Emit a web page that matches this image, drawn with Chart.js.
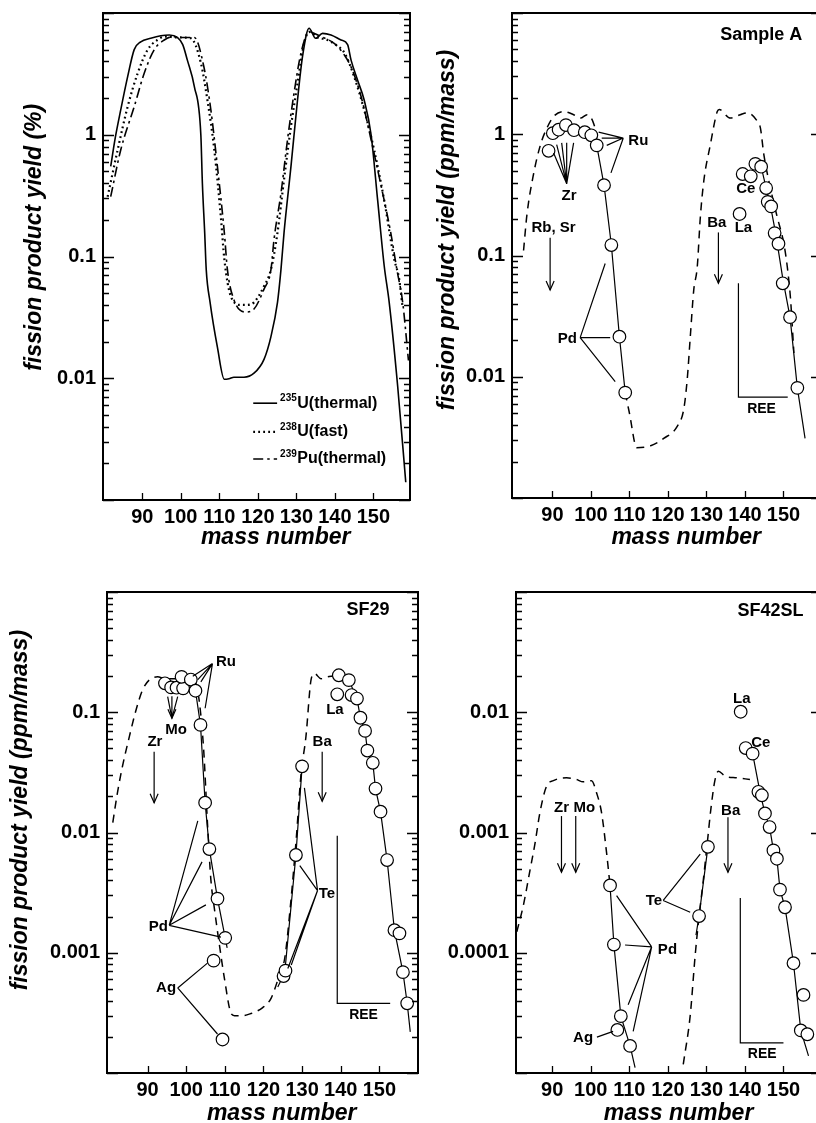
<!DOCTYPE html>
<html>
<head>
<meta charset="utf-8">
<title>Fission product yields</title>
<script src="https://cdn.jsdelivr.net/npm/chart.js@4.4.1/dist/chart.umd.min.js"></script>
<style>
  html, body { margin: 0; padding: 0; background: #fff; overflow: hidden; width: 816px; height: 1123px; }
  body { position: relative; }
  canvas { position: absolute; }
</style>
</head>
<body>
<canvas id="c1" width="420" height="560" style="left:0;top:0"></canvas>
<canvas id="c2" width="422" height="560" style="left:410px;top:0"></canvas>
<canvas id="c3" width="428" height="560" style="left:0;top:579px"></canvas>
<canvas id="c4" width="422" height="560" style="left:410px;top:579px"></canvas>
<script>
/* ── Axis ticks ─────────────────────────────── */
const xTicks = [90, 100, 110, 120, 130, 140, 150];
const xTickLabels = ['90', '100', '110', '120', '130', '140', '150'];

/* ── Panel 1: fission yield curves (%) ──────── */
const u235Mass = [81.8, 83, 84.4, 86.2, 87.9, 89.6, 92.2, 94.8, 97, 99.1, 100.5, 101.7, 103.5, 105.2, 105.6, 106.2, 106.6, 107.6, 109.5, 111.3, 112.5, 113.8, 116.4, 119, 121.6, 123.4, 125.1, 126, 126.8, 128.6, 130.3, 131.6, 133.3, 135, 136.8, 139, 141.6, 143.3, 144.2, 145.9, 147.6, 149.4, 151.1, 152.8, 154.1, 156.3, 158.4];
const u235Yield = [0.55, 0.95, 1.6, 3.0, 5.0, 5.8, 6.2, 6.5, 6.6, 6.3, 5.5, 4.1, 2.5, 1.0, 0.4, 0.157, 0.078, 0.042, 0.018, 0.0098, 0.0099, 0.0102, 0.0102, 0.011, 0.0143, 0.022, 0.042, 0.078, 0.157, 0.55, 1.93, 4.4, 7.5, 6.2, 6.8, 6.6, 6.0, 5.5, 4.1, 2.8, 1.93, 1.0, 0.29, 0.084, 0.042, 0.0086, 0.0014];
const u238Mass = [81, 83.6, 86.2, 88.8, 91.4, 93.9, 96, 99, 102.6, 105.2, 106.9, 108.7, 110.4, 111.3, 113, 115.6, 117, 119, 121.6, 123.4, 125.1, 126.8, 128.6, 130.3, 132, 133.3, 135.5, 138.1, 140.5, 142.5, 145, 147.6, 150.2, 152.8, 155.4, 156.7, 157.5];
const u238Yield = [0.31, 0.75, 1.7, 3.2, 5.0, 6.0, 6.4, 6.3, 6.2, 3.9, 1.93, 0.75, 0.21, 0.095, 0.047, 0.040, 0.040, 0.042, 0.057, 0.078, 0.157, 0.43, 1.17, 2.65, 5.6, 7.0, 6.3, 6.0, 5.4, 4.7, 3.0, 1.6, 0.75, 0.29, 0.095, 0.065, 0.04];
const pu239Mass = [81.8, 84.4, 87.9, 90.5, 93.1, 95.7, 98, 100, 103.5, 106, 107.8, 109.5, 111.3, 112.1, 113.8, 116.9, 119, 121.6, 123.4, 124.2, 126, 127.7, 129.4, 131.2, 133.3, 136.4, 139.9, 142.5, 144.2, 146.8, 149.4, 152, 154.5, 156.1, 157.6, 159.1];
const pu239Yield = [0.31, 0.75, 1.7, 3.2, 5.0, 6.0, 6.4, 6.3, 6.3, 3.6, 1.6, 0.55, 0.157, 0.078, 0.044, 0.035, 0.037, 0.054, 0.078, 0.138, 0.33, 0.91, 2.2, 4.7, 7.0, 6.4, 5.6, 4.5, 3.6, 2.06, 0.91, 0.38, 0.157, 0.078, 0.042, 0.014];
const keyIsotopes = ['235', '238', '239'];
const keyNames = ['U(thermal)', 'U(fast)', 'Pu(thermal)'];

/* ── Panel 2: Sample A (ppm/mass) ───────────── */
const aModelMass = [82.5, 83.4, 85.1, 86.9, 88.6, 90.3, 92.9, 95.5, 97.3, 99, 100.3, 101.0, 105, 108.9, 110, 111.9, 115.5, 118.9, 122.4, 124.1, 125, 125.8, 126.7, 127.6, 128.4, 129.3, 131, 132.8, 133.3, 136.2, 138.8, 140.6, 143.2, 144, 144.9, 146.6, 148.4, 150.1, 151, 151.8, 152.7];
const aModelYield = [0.11, 0.22, 0.47, 0.82, 1.13, 1.40, 1.54, 1.45, 1.36, 1.45, 1.32, 1.15, null, 0.0074, 0.005, 0.0026, 0.0027, 0.0031, 0.0039, 0.0054, 0.0095, 0.0214, 0.052, 0.080, 0.206, 0.41, 0.82, 1.54, 1.6, 1.36, 1.45, 1.50, 1.28, 1.13, 0.68, 0.36, 0.206, 0.125, 0.080, 0.045, 0.0157];
const aLeftMass = [89.0, 90.1, 91.6, 93.5, 95.6, 98.4, 100.1, 101.5, 103.4, 105.3, 107.4, 108.9];
const aLeftYield = [0.73, 1.02, 1.09, 1.19, 1.08, 1.04, 0.98, 0.81, 0.38, 0.122, 0.0214, 0.0074];
const aRightMass = [138.6, 139.4, 141.5, 142.7, 144.2, 145.5, 145.9, 146.8, 147.7, 148.7, 149.8, 151.7, 153.6];
const aRightYield = [0.22, 0.47, 0.45, 0.57, 0.54, 0.36, 0.277, 0.254, 0.153, 0.125, 0.059, 0.031, 0.0081];
const aLineLMass = [101.5, 103.4, 105.3, 107.4, 108.9];
const aLineLYield = [0.81, 0.38, 0.122, 0.0214, 0.0074];
const aLineRMass = [144.2, 145.5, 146.8, 148, 149.9, 151.7, 153.6, 155.6];
const aLineRYield = [0.54, 0.36, 0.24, 0.15, 0.062, 0.031, 0.0081, 0.0031];

/* ── Panel 3: SF29 (ppm/mass) ───────────────── */
const sfModelMass = [81, 82.2, 83.5, 85.3, 87, 88.7, 90.4, 92.6, 94.5, 97, 99.5, 101.5, 103, 104.5, 105.5, 106.4, 107.3, 108.6, 109.9, 111.5, 112.5, 114.6, 116.5, 119.8, 122, 124.1, 125.5, 127, 128.5, 129.7, 131, 132.3, 133.2, 134.9, 136.6, 138];
const sfModelYield = [0.0121, 0.0214, 0.0355, 0.063, 0.104, 0.153, 0.185, 0.197, 0.19, 0.19, 0.2, 0.19, 0.15, 0.05, 0.012, 0.004, 0.00233, 0.00116, 0.00061, 0.00032, 0.0003, 0.0003, 0.00031, 0.00035, 0.00042, 0.00065, 0.0009, 0.0025, 0.009, 0.030, 0.063, 0.185, 0.21, 0.19, 0.197, 0.2];
const sfLeftMass = [94.5, 96.1, 97.5, 99.2, 98.8, 101.2, 102.4, 103.7, 104.9, 106, 108.1, 110.1];
const sfLeftYield = [0.174, 0.161, 0.160, 0.158, 0.197, 0.187, 0.151, 0.0785, 0.0177, 0.00728, 0.00282, 0.00133];
const sfAgMass = [107.1, 109.4];
const sfAgYield = [0.00086, 0.00019];
const sfTeMass = [125.2, 125.7, 128.4, 130.0];
const sfTeYield = [0.00064, 0.00071, 0.0065, 0.0355];
const sfRightMass = [139.1, 139.5, 142.1, 142.8, 144.2, 145.1, 146.3, 146.9, 148.3, 149, 150.3, 152, 153.9, 155.2, 156.1, 157.2];
const sfRightYield = [0.141, 0.203, 0.185, 0.139, 0.130, 0.090, 0.070, 0.048, 0.038, 0.0232, 0.0149, 0.0059, 0.00154, 0.00145, 0.00069, 0.00038];
const sfLineLMass = [102.4, 103.7, 104.9, 106, 108.1, 110.1, 110.6];
const sfLineLYield = [0.151, 0.0785, 0.0177, 0.00728, 0.00282, 0.00133, 0.0011];
const sfLineTeMass = [123.7, 125.5, 128.4, 130.0];
const sfLineTeYield = [0.00052, 0.00068, 0.0065, 0.0355];
const sfLineRMass = [142.1, 144.2, 145.1, 146.3, 146.9, 148.3, 149, 150.3, 152, 153.9, 156.1, 157.2, 158];
const sfLineRYield = [0.185, 0.130, 0.090, 0.070, 0.048, 0.038, 0.0232, 0.0149, 0.0059, 0.00154, 0.00069, 0.00038, 0.00022];

/* ── Panel 4: SF42SL (ppm/mass) ─────────────── */
const slModelMass = [80.8, 82.5, 84.2, 85.5, 86.8, 88.5, 90.3, 93.7, 96.3, 98, 100.2, 101.5, 102.8, 104.1, 105, 115, 124, 125.8, 127.1, 128.1, 129.2, 130.2, 131.2, 132.2, 133.1, 134.9, 137.9, 141.3];
const slModelYield = [0.000149, 0.000247, 0.00048, 0.0008, 0.00146, 0.00242, 0.0027, 0.00285, 0.00276, 0.00264, 0.0027, 0.00214, 0.00146, 0.00068, 0.000363, null, 0.0000118, 0.00003, 0.000096, 0.0002, 0.0004, 0.0008, 0.0016, 0.0027, 0.00323, 0.00294, 0.00285, 0.00276];
const slPdMass = [105, 106, 107.8, 110.2];
const slPdYield = [0.000363, 0.000117, 0.0000297, 0.0000168];
const slAgMass = [106.9];
const slAgYield = [0.0000228];
const slTeMass = [128.1, 130.4];
const slTeYield = [0.000202, 0.00076];
const slRightMass = [138.9, 140.2, 142, 143.5, 144.4, 145.2, 146.4, 147.4, 148.3, 149.1, 150.4, 152.6, 155.2, 154.5, 156.2];
const slRightYield = [0.0101, 0.00504, 0.00453, 0.00218, 0.00204, 0.00144, 0.00111, 0.00071, 0.000605, 0.000335, 0.000239, 0.0000818, 0.0000446, 0.0000226, 0.000021];
const slLinePdMass = [105, 106, 107.8, 110.2, 111.5];
const slLinePdYield = [0.000363, 0.000117, 0.0000297, 0.0000168, 0.0000111];
const slLineTeMass = [127.3, 128.1, 130.4];
const slLineTeYield = [0.00014, 0.000202, 0.00076];
const slLineRMass = [142, 144, 145.2, 146.4, 147.4, 148.3, 149.1, 150.4, 152.6, 154.5, 156.5];
const slLineRYield = [0.00453, 0.0021, 0.00144, 0.00111, 0.00071, 0.000605, 0.000335, 0.000239, 0.0000818, 0.0000226, 0.0000139];

const FONT = '"Liberation Sans", Arial, Helvetica, sans-serif';
Chart.defaults.font.family = FONT;
Chart.defaults.color = '#000';

const pts = (xs, ys) => xs.map((x, i) => ({ x: x, y: ys[i] }));

function curve(xs, ys, dash, width) {
    return {
        data: pts(xs, ys), showLine: true, pointRadius: 0,
        borderColor: '#000', borderWidth: width || 1.4, borderDash: dash || [],
        cubicInterpolationMode: 'monotone', fill: false
    };
}
function straight(xs, ys) {
    return { data: pts(xs, ys), showLine: true, pointRadius: 0, borderColor: '#000', borderWidth: 1.2, tension: 0 };
}
function circles(xs, ys) {
    return {
        data: pts(xs, ys), showLine: false, pointRadius: 6.3, pointBorderWidth: 1.2,
        backgroundColor: '#fff', borderColor: '#000', pointBackgroundColor: '#fff', pointBorderColor: '#000'
    };
}

/* ── Annotations (label positions in data units) ── */
const notesFor = {
    c1: [
        { t: 'key', ds: 0, x1: 118.8, x2: 125, v: 0.00624, sup: keyIsotopes[0], s: keyNames[0] },
        { t: 'key', ds: 1, x1: 118.8, x2: 125, v: 0.00363, sup: keyIsotopes[1], s: keyNames[1] },
        { t: 'key', ds: 2, x1: 118.8, x2: 125, v: 0.00217, sup: keyIsotopes[2], s: keyNames[2] }
    ],
    c2: [
        { t: 'text', at: [154.9, 6.6], s: 'Sample A', size: 18, align: 'right' },
        { t: 'text', at: [109.7, 0.876], s: 'Ru', align: 'left' },
        { t: 'fan', from: [108.4, 0.93], to: [[102.0, 1.04], [102.8, 0.93], [104.1, 0.81], [105.2, 0.48]] },
        { t: 'text', at: [94.3, 0.31], s: 'Zr' },
        { t: 'fan', from: [93.7, 0.39], to: [[90.3, 0.70], [91.1, 0.82], [92.4, 0.85], [93.7, 0.85], [95.5, 0.85]] },
        { t: 'text', at: [90.3, 0.17], s: 'Rb, Sr' },
        { t: 'arrow', at: [89.4, 0.14, 0.052] },
        { t: 'text', at: [132.7, 0.187], s: 'Ba' },
        { t: 'arrow', at: [133.1, 0.155, 0.059] },
        { t: 'text', at: [140.2, 0.352], s: 'Ce' },
        { t: 'text', at: [139.6, 0.17], s: 'La' },
        { t: 'text', at: [93.9, 0.0207], s: 'Pd' },
        { t: 'fan', from: [97.2, 0.021], to: [[103.7, 0.086], [105, 0.021], [106.3, 0.0091]] },
        { t: 'path', pts: [[138.3, 0.059], [138.3, 0.0068], [151.1, 0.0068]] },
        { t: 'text', at: [144.3, 0.0054], s: 'REE', size: 14 }
    ],
    c3: [
        { t: 'text', at: [152.6, 0.71], s: 'SF29', size: 18, align: 'right' },
        { t: 'text', at: [107.7, 0.262], s: 'Ru', align: 'left' },
        { t: 'fan', from: [106.8, 0.254], to: [[101.7, 0.199], [103, 0.187], [103.8, 0.179], [104.9, 0.108]] },
        { t: 'text', at: [97.4, 0.071], s: 'Mo' },
        { t: 'fan', from: [96.3, 0.089], to: [[95.2, 0.135], [96.3, 0.136], [97.8, 0.135]], head: true },
        { t: 'text', at: [91.9, 0.057], s: 'Zr' },
        { t: 'arrow', at: [91.7, 0.047, 0.0177] },
        { t: 'text', at: [135.2, 0.057], s: 'Ba' },
        { t: 'arrow', at: [135.2, 0.047, 0.0182] },
        { t: 'text', at: [138.5, 0.104], s: 'La' },
        { t: 'text', at: [134.3, 0.0031], s: 'Te', align: 'left' },
        { t: 'fan', from: [134.0, 0.00329], to: [[130.6, 0.0235], [129.4, 0.0053], [126.3, 0.00074], [127.2, 0.00079]] },
        { t: 'text', at: [92.8, 0.00164], s: 'Pd' },
        { t: 'fan', from: [95.6, 0.00169], to: [[103, 0.0125], [104.1, 0.0057], [105.1, 0.0025], [109, 0.00135]] },
        { t: 'text', at: [94.8, 0.00051], s: 'Ag' },
        { t: 'fan', from: [97.8, 0.00051], to: [[105.5, 0.00082], [108.1, 0.000211]] },
        { t: 'path', pts: [[139.1, 0.0094], [139.1, 0.00038], [152.8, 0.00038]] },
        { t: 'text', at: [145.9, 0.000305], s: 'REE', size: 14 }
    ],
    c4: [
        { t: 'text', at: [155.2, 0.070], s: 'SF42SL', size: 18, align: 'right' },
        { t: 'text', at: [139.2, 0.013], s: 'La' },
        { t: 'text', at: [144.1, 0.0056], s: 'Ce' },
        { t: 'text', at: [92.4, 0.00161], s: 'Zr' },
        { t: 'arrow', at: [92.4, 0.00137, 0.000468] },
        { t: 'text', at: [98.3, 0.00161], s: 'Mo' },
        { t: 'arrow', at: [96.1, 0.00137, 0.000468] },
        { t: 'text', at: [136.3, 0.00151], s: 'Ba' },
        { t: 'arrow', at: [135.6, 0.00134, 0.000468] },
        { t: 'text', at: [116.4, 0.000272], s: 'Te' },
        { t: 'fan', from: [118.8, 0.000272], to: [[128.4, 0.00066], [125.8, 0.000217]] },
        { t: 'text', at: [119.9, 0.000105], s: 'Pd' },
        { t: 'fan', from: [115.8, 0.000112], to: [[106.7, 0.000299], [108.9, 0.000116], [109.7, 0.0000369], [111, 0.0000222]] },
        { t: 'text', at: [98.0, 0.0000196], s: 'Ag' },
        { t: 'fan', from: [101.6, 0.0000199], to: [[105.8, 0.0000222]] },
        { t: 'path', pts: [[138.8, 0.000285], [138.8, 0.0000178], [150, 0.0000178]] },
        { t: 'text', at: [144.5, 0.0000143], s: 'REE', size: 14 }
    ]
};

function arrowHead(ctx, X, Y) {
    ctx.beginPath();
    ctx.moveTo(X - 4, Y - 9);
    ctx.lineTo(X, Y);
    ctx.lineTo(X + 4, Y - 9);
    ctx.stroke();
}

const notes = {
    id: 'notes',
    afterDatasetsDraw(chart) {
        const items = notesFor[chart.canvas.id] || [];
        const { ctx, scales: { x, y } } = chart;
        const px = p => [x.getPixelForValue(p[0]), y.getPixelForValue(p[1])];
        ctx.save();
        ctx.strokeStyle = '#000';
        ctx.fillStyle = '#000';
        ctx.lineWidth = 1.2;
        ctx.textBaseline = 'middle';
        items.forEach(it => {
            if (it.t === 'text') {
                const [X, Y] = px(it.at);
                ctx.font = 'bold ' + (it.size || 15) + 'px ' + FONT;
                ctx.textAlign = it.align || 'center';
                ctx.fillText(it.s, X, Y);
            } else if (it.t === 'fan') {
                const [X0, Y0] = px(it.from);
                ctx.beginPath();
                it.to.forEach(p => {
                    const [X1, Y1] = px(p);
                    ctx.moveTo(X0, Y0);
                    ctx.lineTo(X1, Y1);
                });
                ctx.stroke();
                if (it.head) arrowHead(ctx, X0, Y0);
            } else if (it.t === 'arrow') {
                const X = x.getPixelForValue(it.at[0]);
                const Y1 = y.getPixelForValue(it.at[1]);
                const Y2 = y.getPixelForValue(it.at[2]);
                ctx.beginPath();
                ctx.moveTo(X, Y1);
                ctx.lineTo(X, Y2);
                ctx.stroke();
                arrowHead(ctx, X, Y2);
            } else if (it.t === 'path') {
                ctx.beginPath();
                it.pts.forEach((p, i) => {
                    const [X, Y] = px(p);
                    if (i === 0) ctx.moveTo(X, Y); else ctx.lineTo(X, Y);
                });
                ctx.stroke();
            } else if (it.t === 'key') {
                // legend sample drawn with the dataset's own line style
                const ds = chart.data.datasets[it.ds];
                const Y = y.getPixelForValue(it.v);
                ctx.save();
                ctx.lineWidth = ds.borderWidth;
                ctx.setLineDash(ds.borderDash || []);
                ctx.beginPath();
                ctx.moveTo(x.getPixelForValue(it.x1), Y);
                ctx.lineTo(x.getPixelForValue(it.x2), Y);
                ctx.stroke();
                ctx.restore();
                let X = x.getPixelForValue(it.x2) + 3;
                ctx.textAlign = 'left';
                ctx.font = 'bold 10px ' + FONT;
                ctx.fillText(it.sup, X, Y - 5);
                X += ctx.measureText(it.sup).width + 0.5;
                ctx.font = 'bold 16px ' + FONT;
                ctx.fillText(it.s, X, Y);
            }
        });
        ctx.restore();
    }
};

/* ── Frame with inward tick marks ───────────── */
const frameTicks = {
    id: 'frameTicks',
    afterDatasetsDraw(chart) {
        const { ctx, chartArea: a, scales: { x, y } } = chart;
        ctx.save();
        ctx.strokeStyle = '#000';
        ctx.lineWidth = 2;
        ctx.strokeRect(a.left, a.top, a.right - a.left, a.bottom - a.top);
        ctx.lineWidth = 1.3;
        ctx.beginPath();
        const e0 = Math.floor(Math.log10(y.min) + 1e-9);
        const e1 = Math.ceil(Math.log10(y.max) - 1e-9);
        for (let e = e0; e <= e1; e++) {
            for (let k = 1; k < 10; k++) {
                const v = k * Math.pow(10, e);
                if (v < y.min * 0.999 || v > y.max * 1.001) continue;
                const Y = Math.round(y.getPixelForValue(v)) + 0.5;
                const len = k === 1 ? 11 : 6;
                ctx.moveTo(a.left, Y); ctx.lineTo(a.left + len, Y);
                ctx.moveTo(a.right, Y); ctx.lineTo(a.right - len, Y);
            }
        }
        xTicks.forEach(v => {
            const X = Math.round(x.getPixelForValue(v)) + 0.5;
            ctx.moveTo(X, a.bottom);
            ctx.lineTo(X, a.bottom - 7);
        });
        ctx.stroke();
        ctx.restore();
    }
};

const tickFont = { family: FONT, size: 20, weight: 'bold' };
const titleFont = { family: FONT, size: 23, weight: 'bold', style: 'italic' };
const nb = n => '\u00a0'.repeat(n);

function makeChart(id, L, datasets) {
    return new Chart(document.getElementById(id), {
        type: 'scatter',
        data: { datasets: datasets },
        options: {
            responsive: false,
            animation: false,
            devicePixelRatio: 1,
            events: [],
            layout: { autoPadding: false, padding: { left: 0, top: L.top, right: L.right, bottom: 0 } },
            plugins: { legend: { display: false }, tooltip: { enabled: false } },
            scales: {
                x: {
                    type: 'linear', min: L.xMin, max: L.xMax,
                    afterBuildTicks: s => { s.ticks = xTicks.map(v => ({ value: v })); },
                    afterFit: s => { s.height = L.xAxisH; s.paddingLeft = 0; s.paddingRight = 0; },
                    grid: { display: false, drawTicks: false },
                    border: { display: false },
                    ticks: { autoSkip: false, maxRotation: 0, padding: 5, font: tickFont, color: '#000', callback: (v, i) => xTickLabels[i] },
                    title: { display: true, text: nb(L.xShift) + 'mass number', font: titleFont, color: '#000', padding: { top: 0, bottom: L.xTitlePad } }
                },
                y: {
                    type: 'logarithmic', min: L.yMin, max: L.yMax,
                    afterBuildTicks: s => { s.ticks = L.yTicks.map(v => ({ value: v })); },
                    afterFit: s => { s.width = L.yAxisW; s.paddingTop = 0; s.paddingBottom = 0; },
                    grid: { display: false, drawTicks: false },
                    border: { display: false },
                    ticks: { autoSkip: false, padding: 7, font: tickFont, color: '#000', callback: (v, i) => L.yLabels[i] },
                    title: L.yTitle
                        ? { display: true, text: nb(L.yShift) + L.yTitle, font: titleFont, color: '#000', padding: { top: L.yTitlePad, bottom: 0 } }
                        : { display: false }
                }
            }
        },
        plugins: [frameTicks, notes]
    });
}

makeChart('c1', {
    top: 13, right: 10, xAxisH: 60, yAxisW: 103, xMin: 79.8, xMax: 159.5,
    yMin: 0.001, yMax: 10, yTicks: [0.01, 0.1, 1], yLabels: ['0.01', '0.1', '1'],
    yTitle: 'fission product yield (%)', yTitlePad: 21, yShift: 6, xShift: 6, xTitlePad: 9
}, [
    curve(u235Mass, u235Yield, [], 1.6),
    curve(u238Mass, u238Yield, [1.8, 3.2], 2.2),
    curve(pu239Mass, pu239Yield, [10, 4, 2.5, 4], 1.6)
]);

makeChart('c2', {
    top: 13, right: 10, xAxisH: 62, yAxisW: 102, xMin: 79.5, xMax: 160,
    yMin: 0.001, yMax: 10, yTicks: [0.01, 0.1, 1], yLabels: ['0.01', '0.1', '1'],
    yTitle: 'fission product yield (ppm/mass)', yTitlePad: 24, yShift: 8, xShift: 6, xTitlePad: 9
}, [
    circles(aLeftMass, aLeftYield),
    circles(aRightMass, aRightYield),
    straight(aLineLMass, aLineLYield),
    straight(aLineRMass, aLineRYield),
    curve(aModelMass, aModelYield, [8, 6], 1.5)
]);

makeChart('c3', {
    top: 13, right: 10, xAxisH: 66, yAxisW: 107, xMin: 79.5, xMax: 160,
    yMin: 0.0001, yMax: 1, yTicks: [0.001, 0.01, 0.1], yLabels: ['0.001', '0.01', '0.1'],
    yTitle: 'fission product yield (ppm/mass)', yTitlePad: 7, yShift: 7, xShift: 6, xTitlePad: 12
}, [
    circles(sfLeftMass, sfLeftYield),
    circles(sfAgMass, sfAgYield),
    circles(sfTeMass, sfTeYield),
    circles(sfRightMass, sfRightYield),
    straight(sfLineLMass, sfLineLYield),
    straight(sfLineTeMass, sfLineTeYield),
    straight(sfLineRMass, sfLineRYield),
    curve(sfModelMass, sfModelYield, [8, 6], 1.5)
]);

makeChart('c4', {
    top: 13, right: 10, xAxisH: 66, yAxisW: 106, xMin: 80.6, xMax: 160,
    yMin: 0.00001, yMax: 0.1, yTicks: [0.0001, 0.001, 0.01], yLabels: ['0.0001', '0.001', '0.01'],
    yTitle: null, xShift: 3, xTitlePad: 12
}, [
    circles(slPdMass, slPdYield),
    circles(slAgMass, slAgYield),
    circles(slTeMass, slTeYield),
    circles(slRightMass, slRightYield),
    straight(slLinePdMass, slLinePdYield),
    straight(slLineTeMass, slLineTeYield),
    straight(slLineRMass, slLineRYield),
    curve(slModelMass, slModelYield, [8, 6], 1.5)
]);
</script>
</body>
</html>
